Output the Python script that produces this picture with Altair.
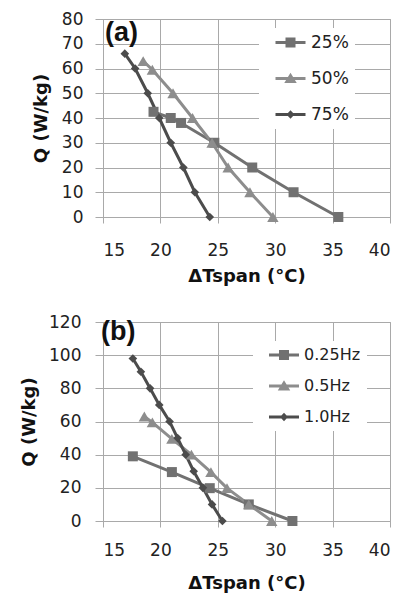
import altair as alt
import pandas as pd

# ---------------- data ----------------
# Panel (a): utilisation
names_a = ["25%", "50%", "75%"]
dt_a = [
    [19.4, 20.9, 21.8, 24.7, 28.0, 31.6, 35.5],
    [18.5, 19.3, 21.1, 22.8, 24.5, 25.9, 27.8, 29.8],
    [16.9, 17.8, 18.9, 19.9, 20.9, 22.0, 23.0, 24.3],
]
q_a = [
    [42.5, 40, 38, 30, 20, 10, 0],
    [63, 59.5, 50, 40, 30, 20, 10, 0],
    [66, 60, 50, 40, 30, 20, 10, 0],
]

# Panel (b): frequency
names_b = ["0.25Hz", "0.5Hz", "1.0Hz"]
dt_b = [
    [17.6, 21.0, 24.3, 27.7, 31.5],
    [18.6, 19.3, 21.0, 22.7, 24.4, 25.8, 27.7, 29.7],
    [17.6, 18.3, 19.1, 19.9, 20.8, 21.5, 22.2, 22.9, 23.7, 24.5, 25.4],
]
q_b = [
    [39, 29.5, 19.8, 10, 0],
    [63, 59.5, 49.5, 40, 29.5, 19.8, 10, 0],
    [98, 90, 80, 70, 60, 50, 40, 30, 20, 10, 0],
]

x_ticks = [15, 20, 25, 30, 35, 40]
y_ticks_a = [0, 10, 20, 30, 40, 50, 60, 70, 80]
y_ticks_b = [0, 20, 40, 60, 80, 100, 120]

# ---------------- styling ----------------
colors = ["#717171", "#8d8d8d", "#4c4c4c"]
shapes = ["square", "triangle-up", "diamond"]
sizes = [100, 130, 75]
legend_paths = [
    "M0.4,-0.28L6.4,-0.28L6.4,0.28L0.4,0.28Z M2.4,-1L4.4,-1L4.4,1L2.4,1Z",
    "M0.4,-0.28L6.4,-0.28L6.4,0.28L0.4,0.28Z M3.4,-1.15L4.65,0.9L2.15,0.9Z",
    "M0.4,-0.28L6.4,-0.28L6.4,0.28L0.4,0.28Z M3.4,-0.85L4.2,0L3.4,0.85L2.6,0Z",
]
GRID = "#a9a9a9"
FONT = "DejaVu Sans"


def make_df(names, dts, qs):
    rows = []
    for i, (n, xs, ys) in enumerate(zip(names, dts, qs)):
        for j, (x, y) in enumerate(zip(xs, ys)):
            rows.append({"series": n, "dt": x, "q": y, "idx": j,
                         "col": colors[i], "shp": shapes[i], "sz": sizes[i]})
    return pd.DataFrame(rows)


def panel(df, names, ymax, yticks, tag, height, ylab_pad, ytitle_pad,
          xlab_pad, xtitle_pad, leg_font, leg_x, leg_y, row_pad, tag_off, tag_dx):
    base = alt.Chart(df)
    x = alt.X("dt:Q", scale=alt.Scale(domain=[15, 40], nice=False),
              axis=alt.Axis(values=x_ticks, title="ΔTspan (°C)", tickSize=6,
                            labelPadding=xlab_pad, titlePadding=xtitle_pad))
    y = alt.Y("q:Q", scale=alt.Scale(domain=[0, ymax], nice=False),
              axis=alt.Axis(values=yticks, title="Q (W/kg)", tickSize=8,
                            labelPadding=ylab_pad, titlePadding=ytitle_pad))
    lines = base.mark_line(strokeWidth=3).encode(
        x=x, y=y, detail="series:N",
        color=alt.Color("col:N", scale=None), order="idx:Q")
    pts = base.mark_point(filled=True, opacity=1, strokeWidth=0).encode(
        x=x, y=y,
        color=alt.Color("col:N", scale=None),
        shape=alt.Shape("shp:N", scale=None),
        size=alt.Size("sz:Q", scale=None))
    leg_props = dict(orient="none", legendX=leg_x, legendY=leg_y, title=None,
                     fillColor="white", padding=6, labelFont=FONT,
                     labelFontSize=leg_font, labelColor="#222222",
                     symbolSize=100, labelOffset=29, rowPadding=row_pad,
                     symbolStrokeWidth=0)
    leg = base.transform_filter("false").mark_point(
        filled=True, opacity=1, strokeWidth=0).encode(
        x=x, y=y,
        color=alt.Color("series:N", scale=alt.Scale(domain=names, range=colors),
                        legend=alt.Legend(**leg_props)),
        shape=alt.Shape("series:N", scale=alt.Scale(domain=names, range=legend_paths),
                        legend=alt.Legend(**leg_props)))
    return alt.layer(lines, pts, leg).properties(
        width=287, height=height,
        title=alt.TitleParams(text=tag, anchor="start", orient="top", frame="group",
                              offset=tag_off, dx=tag_dx, font="Liberation Sans",
                              fontSize=27, fontWeight="bold", color="#111111"),
    )


df_a = make_df(names_a, dt_a, q_a)
df_b = make_df(names_b, dt_b, q_b)

chart_a = panel(df_a, names_a, 80, y_ticks_a, "(a)", 198, 12, 11, 19, 9,
                17, 156, 9, 18, -37, 2)
chart_b = panel(df_b, names_b, 120, y_ticks_b, "(b)", 199, 14, 10, 15, 16,
                16, 150, 19, 15, -33, -2)

chart = alt.vconcat(chart_a, chart_b, spacing=26).resolve_scale(
    color="independent", shape="independent"
).properties(
    padding={"left": 12, "top": 1, "right": 0, "bottom": 0},
    background="white",
).configure_view(stroke=GRID).configure_axis(
    gridColor=GRID, domainColor=GRID, tickColor=GRID, gridOpacity=1,
    labelFont=FONT, labelFontSize=17, labelColor="#222222",
    titleFont=FONT, titleFontSize=18, titleFontWeight="bold", titleColor="#111111",
)

chart.save("out.html", embed_options={"renderer": "svg", "actions": False})
